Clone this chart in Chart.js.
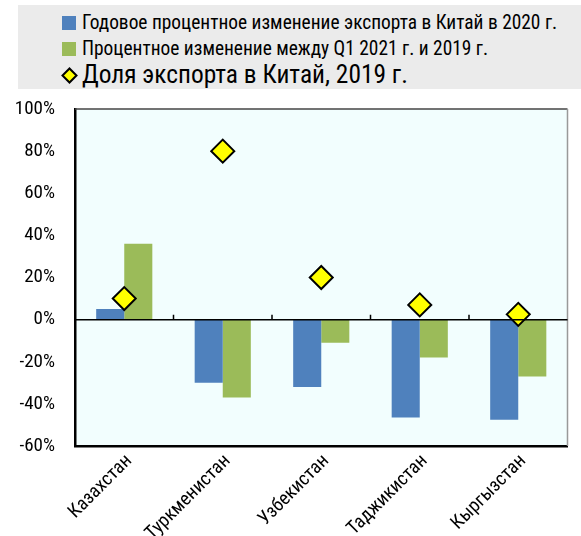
<!DOCTYPE html>
<html>
<head>
<meta charset="utf-8">
<script src="https://cdn.jsdelivr.net/npm/chart.js@4"></script>
<style>
  html, body { margin: 0; padding: 0; background: #fff; }
  .wrap { position: relative; width: 581px; height: 536px; }
  canvas { position: absolute; left: 0; top: 0; }
  .legend {
    position: absolute; left: 18px; top: 5px; width: 563px; height: 84px;
    background: #ebebeb; font-family: 'Roboto Condensed', 'Liberation Sans', sans-serif;
    color: #000;
  }
  .legend .item { position: absolute; left: 64px; white-space: nowrap; line-height: 1; }
  .legend .sw { position: absolute; left: -20px; top: 3px; width: 14px; height: 14px; }
  .legend svg { position: absolute; left: -21px; top: 5px; }
</style>
</head>
<body>
<div class="wrap">
  <canvas id="chart" width="581" height="536"></canvas>
  <div class="legend">
    <div class="item" style="top:8px;font-size:19.4px"><span class="sw" style="background:#4f81bd"></span>Годовое процентное изменение экспорта в Китай в 2020 г.</div>
    <div class="item" style="top:34px;font-size:19.4px"><span class="sw" style="background:#9bbb59"></span>Процентное изменение между Q1 2021 г. и 2019 г.</div>
    <div class="item" style="top:57px;font-size:25.4px"><svg width="17" height="17" viewBox="0 0 17 17"><polygon points="8.5,1.5 15.5,8.5 8.5,15.5 1.5,8.5" fill="#ffff00" stroke="#000" stroke-width="2"/></svg>Доля экспорта в Китай, 2019 г.</div>
  </div>
</div>
<script>
const countries = ['Казахстан', 'Туркменистан', 'Узбекистан', 'Таджикистан', 'Кыргызстан'];
const change2020 = [5, -30, -32, -46.5, -47.5];
const changeQ1 = [36, -37, -11, -18, -27];
const shareChina = [10, 80, 20, 7, 2.5];
const yTicks = [100, 80, 60, 40, 20, 0, -20, -40, -60];

const FONT = "'Roboto Condensed', 'Liberation Sans', sans-serif";

const frame = {
  id: 'frame',
  beforeDraw(chart) {
    const { ctx, chartArea: a } = chart;
    ctx.save();
    ctx.fillStyle = '#f2fefe';
    ctx.fillRect(a.left, a.top, a.right - a.left, a.bottom - a.top);
    ctx.restore();
  },
  afterDatasetsDraw(chart) {
    const { ctx, chartArea: a, scales: { x, y } } = chart;
    ctx.save();
    // top and right border
    ctx.strokeStyle = '#444';
    ctx.lineWidth = 1.5;
    ctx.beginPath();
    ctx.moveTo(a.left, a.top); ctx.lineTo(a.right, a.top);
    ctx.stroke();
    ctx.strokeStyle = '#999';
    ctx.beginPath();
    ctx.moveTo(a.right, a.top); ctx.lineTo(a.right, a.bottom);
    ctx.stroke();
    // zero line with small ticks between categories
    const y0 = y.getPixelForValue(0);
    ctx.strokeStyle = '#000';
    ctx.lineWidth = 1.5;
    ctx.beginPath();
    ctx.moveTo(a.left, y0); ctx.lineTo(a.right, y0);
    for (let i = 1; i < countries.length; i++) {
      const px = (x.getPixelForValue(i - 1) + x.getPixelForValue(i)) / 2;
      ctx.moveTo(px, y0); ctx.lineTo(px, y0 - 5);
    }
    ctx.stroke();
    ctx.restore();
  }
};

new Chart(document.getElementById('chart'), {
  data: {
    labels: countries,
    datasets: [
      { type: 'line', label: 'Доля экспорта в Китай, 2019 г.', data: shareChina, showLine: false,
        pointStyle: 'rectRot', pointRadius: 11.5, pointBackgroundColor: '#ffff00', pointBorderColor: '#000',
        pointBorderWidth: 2, order: 0 },
      { type: 'bar', label: 'Годовое процентное изменение экспорта в Китай в 2020 г.', data: change2020,
        backgroundColor: '#4f81bd', barPercentage: 1, categoryPercentage: 0.57, order: 1 },
      { type: 'bar', label: 'Процентное изменение между Q1 2021 г. и 2019 г.', data: changeQ1,
        backgroundColor: '#9bbb59', barPercentage: 1, categoryPercentage: 0.57, order: 1 },
    ],
  },
  options: {
    responsive: false, animation: false,
    layout: { padding: { top: 109, right: 1, left: 0, bottom: 0 } },
    plugins: { legend: { display: false }, tooltip: { enabled: false } },
    scales: {
      x: {
        offset: true,
        grid: { display: false },
        border: { color: '#000', width: 2.5 },
        ticks: { color: '#000', font: { family: FONT, size: 19 }, maxRotation: 45, minRotation: 45, padding: -4, labelOffset: 5 },
        afterFit: (s) => { s.height = 90; },
      },
      y: {
        min: -60, max: 100,
        afterBuildTicks: (s) => { s.ticks = yTicks.map(v => ({ value: v })); },
        grid: { display: false },
        border: { color: '#000', width: 2.5 },
        ticks: { color: '#000', font: { family: FONT, size: 19 }, padding: 12, callback: (v) => v + '%' },
        afterFit: (s) => { s.width = 75; },
      },
    },
  },
  plugins: [frame],
});
</script>
</body>
</html>
